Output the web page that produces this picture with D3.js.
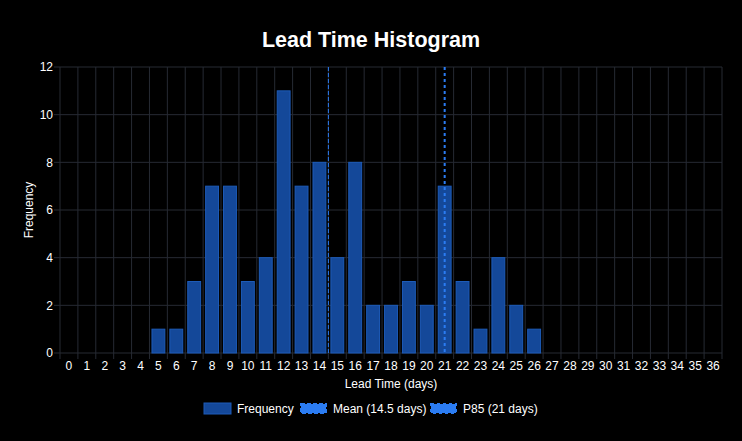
<!DOCTYPE html>
<html><head><meta charset="utf-8">
<script src="https://cdn.jsdelivr.net/npm/d3@7"></script>
<style>
html,body{margin:0;padding:0;background:#000;}
svg{display:block;font-family:"Liberation Sans",Arial,Helvetica,sans-serif;}
</style></head>
<body>
<svg id="chart" width="742" height="441"></svg>
<script>
const categories = d3.range(0, 37).map(String);
const frequency = [0,0,0,0,0,1,1,3,7,7,3,4,11,7,8,4,8,2,2,3,2,7,3,1,4,2,1,0,0,0,0,0,0,0,0,0,0];
const yTicks = [0,2,4,6,8,10,12];
const meanValue = 14.5;
const p85Value = 21;
const legendLabels = ["Frequency", "Mean (14.5 days)", "P85 (21 days)"];

const svg = d3.select("#chart");
const W = 742, H = 441;
const m = {left: 60, right: 20, top: 67, bottom: 88};
const x0 = m.left, x1 = W - m.right, y0 = H - m.bottom, y1 = m.top;

svg.append("rect").attr("width", W).attr("height", H).attr("fill", "#000");

const x = d3.scaleBand().domain(categories).range([x0, x1]).paddingInner(0).paddingOuter(0);
const xLin = d3.scaleLinear().domain([-0.5, categories.length - 0.5]).range([x0, x1]);
const y = d3.scaleLinear().domain([0, 12]).range([y0, y1]);

const gridColor = "#262a33";
const g = svg.append("g");
d3.range(0, categories.length + 1).forEach(i => {
  const xx = x0 + i * x.bandwidth();
  g.append("line").attr("x1", xx).attr("x2", xx).attr("y1", y1).attr("y2", y0 + 6)
    .attr("stroke", gridColor).attr("stroke-width", 1);
});
yTicks.forEach(t => {
  g.append("line").attr("x1", x0 - 6).attr("x2", x1).attr("y1", y(t)).attr("y2", y(t))
    .attr("stroke", gridColor).attr("stroke-width", 1);
});

const yAxis = d3.axisLeft(y).tickValues(yTicks).tickSize(0).tickPadding(7);
const ya = svg.append("g").attr("transform", `translate(${x0},0)`).call(yAxis);
ya.select(".domain").remove();
ya.selectAll("text").attr("fill", "#fff").style("font-size", "12px").style("font-family", "Liberation Sans, Arial, sans-serif");

const xAxis = d3.axisBottom(x).tickSize(0).tickPadding(8);
const xa = svg.append("g").attr("transform", `translate(0,${y0})`).call(xAxis);
xa.select(".domain").remove();
xa.selectAll("text").attr("fill", "#fff").style("font-size", "12px").style("font-family", "Liberation Sans, Arial, sans-serif");

const bw = x.bandwidth() * 0.72;
svg.append("g").selectAll("rect").data(frequency.map((v, i) => ({c: categories[i], v})).filter(d => d.v > 0))
  .join("rect")
  .attr("x", d => x(d.c) + (x.bandwidth() - bw) / 2)
  .attr("width", bw)
  .attr("y", d => y(d.v))
  .attr("height", d => y(0) - y(d.v))
  .attr("fill", "#144899")
  .attr("stroke", "#1d5bb8")
  .attr("stroke-width", 1);

const lineColor = "#2b7cf2";
const xm = xLin(meanValue);
svg.append("line").attr("x1", xm).attr("x2", xm).attr("y1", y1).attr("y2", y0)
  .attr("stroke", lineColor).attr("stroke-width", 1).attr("stroke-dasharray", "4,2");
const xp = xLin(p85Value);
svg.append("line").attr("x1", xp).attr("x2", xp).attr("y1", y1).attr("y2", y0)
  .attr("stroke", lineColor).attr("stroke-width", 2).attr("stroke-dasharray", "3,3");

svg.append("text").attr("x", W / 2).attr("y", 47).attr("text-anchor", "middle")
  .attr("fill", "#fff").style("font-size", "21.5px").style("font-weight", "bold").text("Lead Time Histogram");

svg.append("text").attr("transform", `translate(33,${(y0 + y1) / 2}) rotate(-90)`).attr("text-anchor", "middle")
  .attr("fill", "#fff").style("font-size", "12px").text("Frequency");
svg.append("text").attr("x", (x0 + x1) / 2).attr("y", 388).attr("text-anchor", "middle")
  .attr("fill", "#fff").style("font-size", "12px").text("Lead Time (days)");

const legendX = [204, 300, 430];
const lg = svg.append("g");
legendLabels.forEach((lab, i) => {
  const lx = legendX[i];
  if (i === 0) {
    lg.append("rect").attr("x", lx).attr("y", 403).attr("width", 27).attr("height", 11)
      .attr("fill", "#144899").attr("stroke", "#1d5bb8").attr("stroke-width", 1);
  } else {
    lg.append("rect").attr("x", lx + 1).attr("y", 404).attr("width", 25).attr("height", 9)
      .attr("fill", lineColor).attr("stroke", lineColor).attr("stroke-width", 2)
      .attr("stroke-dasharray", i === 1 ? "4,2" : "3,3");
  }
  lg.append("text").attr("x", lx + 33).attr("y", 413).attr("fill", "#fff")
    .style("font-size", "12px").text(lab);
});
</script>
</body></html>
